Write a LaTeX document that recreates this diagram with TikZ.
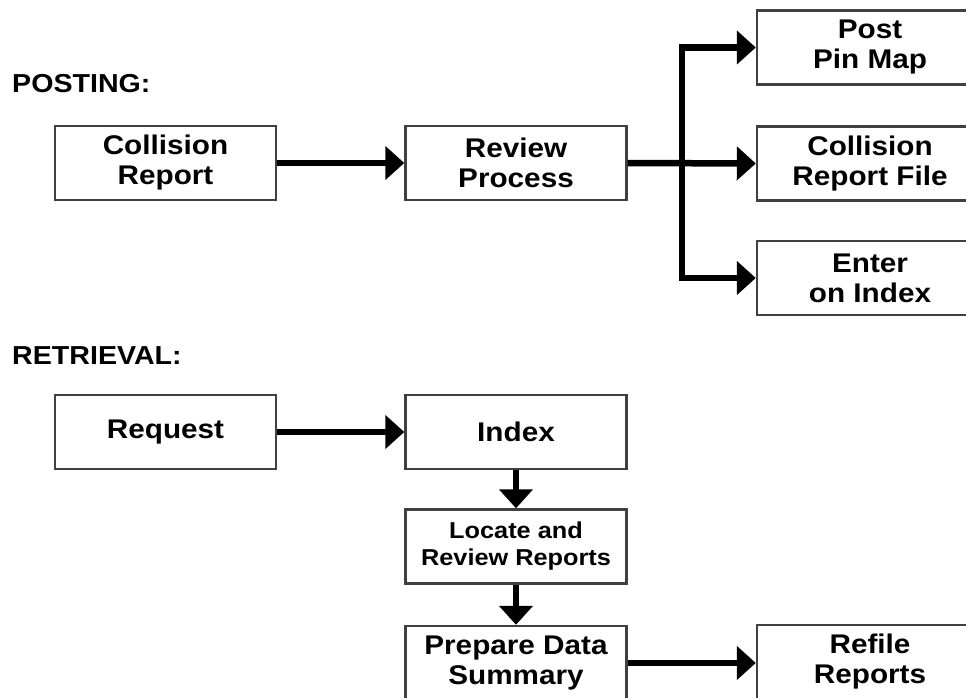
\documentclass[tikz,border=0pt]{standalone}
\usepackage{fontspec}
\setmainfont{Liberation Sans}[FakeStretch=1.1]
\usetikzlibrary{arrows.meta}

\tikzset{
  box/.style={draw=black!75, line width=2.4pt, fill=white,
    minimum width=221pt, minimum height=74pt, inner sep=0pt,
    align=center, font=\bfseries\fontsize{27}{30}\selectfont},
  wide/.style={minimum width=226pt},
  small/.style={font=\bfseries\fontsize{23}{27}\selectfont},
  heading/.style={anchor=base west, inner sep=0pt,
    font=\bfseries\fontsize{26}{28}\selectfont},
  flow/.style={line width=6.5pt, line join=miter,
    -{Triangle[length=19pt, width=33pt]}}
}

\begin{document}
\begin{tikzpicture}[x=1pt, y=-1pt]
  \useasboundingbox (0,0) rectangle (966,698);

  % section headings
  \node[heading] (posting) at (12,93) {POSTING:};
  \node[heading] (retrieval) at (12,364) {RETRIEVAL:};

  % posting flow
  \node[box] (report) at (165.5,163) {Collision\\Report};
  \node[box] (review) at (516,163) {Review\\Process};
  \node[box, wide] (pinmap) at (870,47.5) {Post\\Pin Map};
  \node[box, wide] (file) at (870,163.5) {Collision\\Report File};
  \node[box, wide] (enter) at (870,278) {Enter\\on Index};

  \coordinate (fork) at (682,163);
  \draw[flow] (report) -- (review);
  \draw[flow] (review.east) -- (file.west);
  \draw[flow] (fork) |- (pinmap.west);
  \draw[flow] (fork) |- (enter.west);

  % retrieval flow
  \node[box] (request) at (165.5,432) {Request};
  \node[box] (index) at (516,432) {Index};
  \node[box, small] (locate) at (516,546.5) {Locate and\\Review Reports};
  \node[box] (prepare) at (516,663) {Prepare Data\\Summary};
  \node[box, wide] (refile) at (870,662) {Refile\\Reports};

  \draw[flow] (request) -- (index);
  \draw[flow] (index) -- (locate);
  \draw[flow] (locate) -- (prepare);
  \draw[flow] (prepare.east) -- (refile.west |- prepare.east);
\end{tikzpicture}
\end{document}
